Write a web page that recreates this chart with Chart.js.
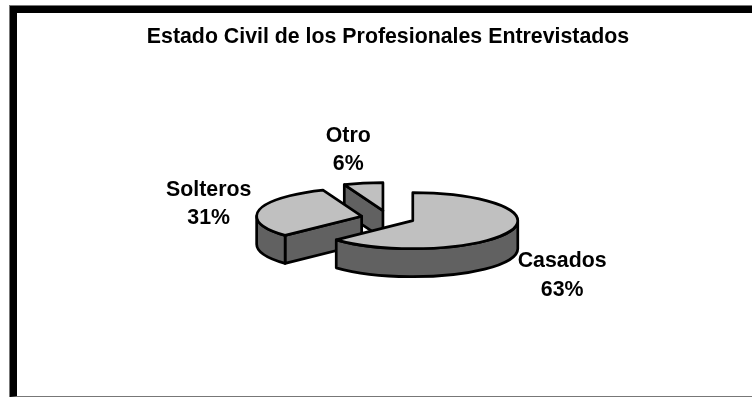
<!DOCTYPE html>
<html lang="es">
<head>
    <meta charset="UTF-8">
    <title>Estado Civil de los Profesionales Entrevistados</title>
    <script src="https://cdnjs.cloudflare.com/ajax/libs/Chart.js/4.4.1/chart.umd.min.js"></script>
    <style>
        html, body {
            margin: 0;
            height: 100%;
            overflow: hidden;
            background-color: #fff;
        }
        .frame {
            position: absolute;
            left: 9px;
            top: 5px;
            width: 760px;
            height: 392px;
            box-sizing: border-box;
            border-left: 1px solid #777;
            border-top: 1px solid #777;
        }
        .frame div {
            height: 100%;
            box-sizing: border-box;
            border-left: 7px solid #000;
            border-top: 7px solid #000;
            border-bottom: 1px solid #777;
        }
        canvas {
            position: absolute;
            left: 0;
            top: 0;
        }
    </style>
</head>
<body>
    <div class="frame"><div></div></div>
    <canvas id="pie3d" width="752" height="397"></canvas>

    <script>
        // Data for the chart
        const categories = ['Casados', 'Solteros', 'Otro'];
        const percentages = [63, 31, 6];

        const FONT = "'Liberation Sans', Arial, sans-serif";
        const TOP_COLOR = '#c0c0c0';
        const SIDE_COLOR = '#616161';
        const SQUASH = 0.267;   // vertical flattening of the pie
        const DEPTH = 28;       // height of the pie wall

        // Label position, relative to the rim point at the middle of each slice
        const labelShift = {
            Casados: [53, 44],
            Solteros: [-50.5, -6],
            Otro: [-15, -33]
        };

        // Draws the arcs computed by the pie controller as tilted, extruded slices
        const pie3d = {
            id: 'pie3d',
            beforeDatasetsDraw(chart) {
                const ctx = chart.ctx;
                const arcs = chart.getDatasetMeta(0).data;

                ctx.save();
                ctx.lineWidth = 2.7;
                ctx.lineJoin = 'round';
                ctx.strokeStyle = '#000';

                // back to front: the order the slices overlap
                [2, 1, 0].forEach((i) => drawSlice(ctx, arcs[i]));
                arcs.forEach((arc, i) => drawLabel(ctx, arc, i));

                ctx.restore();
                return false;
            }
        };

        function sliceGeometry(arc) {
            const p = arc.getProps(['x', 'y', 'startAngle', 'endAngle', 'outerRadius']);
            const mid = (p.startAngle + p.endAngle) / 2;
            return {
                cx: p.x + Math.cos(mid) * arc.options.offset,
                cy: p.y + Math.sin(mid) * arc.options.offset * SQUASH,
                rx: p.outerRadius,
                ry: p.outerRadius * SQUASH,
                start: p.startAngle,
                end: p.endAngle,
                mid: mid
            };
        }

        function paint(ctx, color) {
            ctx.closePath();
            ctx.fillStyle = color;
            ctx.fill();
            ctx.stroke();
        }

        function drawCutFace(ctx, g, angle) {
            const ex = g.cx + Math.cos(angle) * g.rx;
            const ey = g.cy + Math.sin(angle) * g.ry;
            ctx.beginPath();
            ctx.moveTo(g.cx, g.cy);
            ctx.lineTo(ex, ey);
            ctx.lineTo(ex, ey + DEPTH);
            ctx.lineTo(g.cx, g.cy + DEPTH);
            paint(ctx, SIDE_COLOR);
        }

        function drawSlice(ctx, arc) {
            const g = sliceGeometry(arc);

            // a cut face shows only when it turns towards the viewer
            if (Math.cos(g.start) < -1e-6) drawCutFace(ctx, g, g.start);
            if (Math.cos(g.end) > 1e-6) drawCutFace(ctx, g, g.end);

            // outer wall, only the part on the front half of the ellipse
            const from = Math.max(g.start, 0);
            const to = Math.min(g.end, Math.PI);
            if (to > from) {
                ctx.beginPath();
                ctx.ellipse(g.cx, g.cy, g.rx, g.ry, 0, from, to);
                ctx.ellipse(g.cx, g.cy + DEPTH, g.rx, g.ry, 0, to, from, true);
                paint(ctx, SIDE_COLOR);
            }

            // top of the slice
            ctx.beginPath();
            ctx.moveTo(g.cx, g.cy);
            ctx.ellipse(g.cx, g.cy, g.rx, g.ry, 0, g.start, g.end);
            paint(ctx, TOP_COLOR);
        }

        function drawLabel(ctx, arc, i) {
            const g = sliceGeometry(arc);
            const shift = labelShift[categories[i]];
            const x = g.cx + Math.cos(g.mid) * g.rx + shift[0];
            const y = g.cy + Math.sin(g.mid) * g.ry + shift[1];

            ctx.fillStyle = '#000';
            ctx.font = 'bold 21.33px ' + FONT;
            ctx.textAlign = 'center';
            ctx.textBaseline = 'middle';
            ctx.fillText(categories[i], x, y - 14.25);
            ctx.fillText(percentages[i] + '%', x, y + 14.25);
        }

        new Chart(document.getElementById('pie3d'), {
            type: 'pie',
            data: {
                labels: categories,
                datasets: [{
                    data: percentages,
                    offset: 27,
                    radius: 105,
                    backgroundColor: TOP_COLOR,
                    borderColor: '#000'
                }]
            },
            options: {
                responsive: false,
                animation: false,
                layout: { padding: { left: 24, bottom: 11 } },
                plugins: {
                    legend: { display: false },
                    tooltip: { enabled: false },
                    title: {
                        display: true,
                        text: 'Estado Civil de los Profesionales Entrevistados',
                        color: '#000',
                        font: { family: FONT, size: 21.33, weight: 'bold' },
                        padding: { top: 24, bottom: 0 }
                    }
                }
            },
            plugins: [pie3d]
        });
    </script>
</body>
</html>
